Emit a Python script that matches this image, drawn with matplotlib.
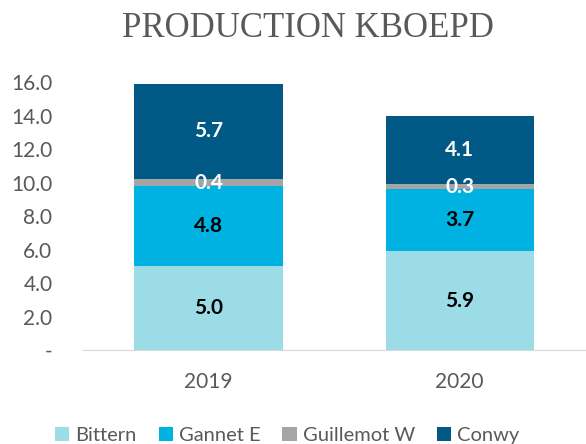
import numpy as np
import matplotlib
matplotlib.use("Agg")
import matplotlib.pyplot as plt

# data
years = ["2019", "2020"]
series = ["Bittern", "Gannet E", "Guillemot W", "Conwy"]
bittern = [5.0, 5.9]
gannet = [4.8, 3.7]
guillemot = [0.4, 0.3]
conwy = [5.7, 4.1]
yticks = [0, 2, 4, 6, 8, 10, 12, 14, 16]

colors = ["#9CDCE7", "#00B2E1", "#A5A5A5", "#005A85"]
label_colors = ["black", "black", "white", "white"]

plt.rcParams['font.family'] = ['Lato', 'DejaVu Sans']

fig = plt.figure(figsize=(5.86, 4.44), dpi=100)
ax = fig.add_axes([0.1416, 0.2117, 0.857, 0.6036])

x = np.arange(len(years))
bottom = np.zeros(len(years))
for name, vals, col, lc in zip(series, [bittern, gannet, guillemot, conwy], colors, label_colors):
    vals = np.array(vals)
    ax.bar(x, vals, 0.59, bottom=bottom, color=col, label=name)
    for xi, b, v in zip(x, bottom, vals):
        ax.text(xi, b + v / 2, "%.1f" % v, ha="center", va="center",
                fontsize=15, fontweight="bold", color=lc)
    bottom += vals

ax.set_xlim(-0.5, 1.5)
ax.set_ylim(0, 16)
ax.set_xticks(x)
ax.set_xticklabels(years)
ax.set_yticks(yticks)
ax.set_yticklabels(["-" if t == 0 else "%.1f" % t for t in yticks])
ax.tick_params(length=0, labelsize=15, colors="#595959")
ax.tick_params(axis="x", pad=16)
ax.tick_params(axis="y", pad=22)
for s in ["top", "right", "left"]:
    ax.spines[s].set_visible(False)
ax.spines["bottom"].set_color("#D9D9D9")

fig.text(0.525, 0.935, "PRODUCTION KBOEPD", ha="center", va="center",
         fontsize=25, color="#595959", family="Liberation Serif")

leg = fig.legend(loc="center", bbox_to_anchor=(0.49, 0.02), ncol=4, frameon=False,
                 fontsize=14.5, handlelength=0.7, handleheight=0.7, handletextpad=0.3,
                 columnspacing=1.1)
for t in leg.get_texts():
    t.set_color("#595959")

fig.savefig("out.png", dpi=100)
